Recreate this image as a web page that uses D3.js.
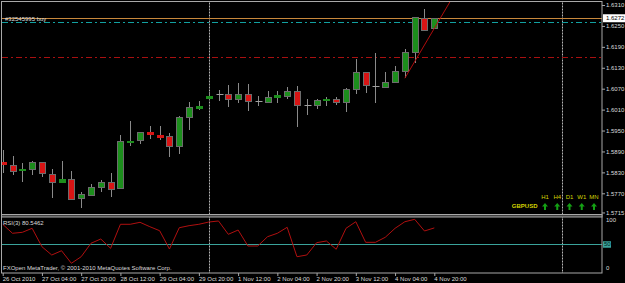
<!DOCTYPE html>
<html>
<head>
<meta charset="utf-8">
<script src="https://cdn.jsdelivr.net/npm/d3@7"></script>
<style>
  body { margin: 0; background: #000; }
  svg { display: block; }
  text { font-family: "Liberation Sans", Arial, sans-serif; font-size: 6px; fill: #dcdcdc; }
</style>
</head>
<body>
<div id="chart"></div>
<script>
// window size
var width = 625, height = 283;

// main window, separator and RSI sub-window (pixels)
var frame = {left: 1.5, right: 602, top: 1.5, mainBottom: 215, rsiTop: 217.5, bottom: 273};

// GBPUSD H4 bars, 26 Oct 12:00 .. 4 Nov 20:00
var opens  = [1.5861, 1.5852, 1.5837, 1.5840, 1.5859, 1.5826, 1.5802, 1.5810, 1.5756, 1.5765,
              1.5789, 1.5803, 1.5784, 1.5917, 1.5921, 1.5945, 1.5937, 1.5933, 1.5904, 1.5987,
              1.6013, 1.6045, 1.6054, 1.6054, 1.6042, 1.6054, 1.6036, 1.6031, 1.6045, 1.6049,
              1.6063, 1.6024, 1.6025, 1.6037, 1.6040, 1.6032, 1.6068, 1.6117, 1.6078, 1.6077,
              1.6090, 1.6119, 1.6174, 1.6273, 1.6242];
var highs  = [1.5894, 1.5877, 1.5858, 1.5862, 1.5860, 1.5839, 1.5863, 1.5833, 1.5775, 1.5797,
              1.5808, 1.5829, 1.5937, 1.5977, 1.5947, 1.5963, 1.5963, 1.5944, 1.5992, 1.6031,
              1.6035, 1.6060, 1.6067, 1.6081, 1.6085, 1.6083, 1.6049, 1.6063, 1.6063, 1.6076,
              1.6078, 1.6040, 1.6039, 1.6047, 1.6045, 1.6071, 1.6154, 1.6118, 1.6173, 1.6119,
              1.6135, 1.6184, 1.6276, 1.6299, 1.6273];
var lows   = [1.5829, 1.5823, 1.5803, 1.5823, 1.5816, 1.5756, 1.5799, 1.5751, 1.5727, 1.5763,
              1.5775, 1.5759, 1.5783, 1.5907, 1.5911, 1.5927, 1.5923, 1.5875, 1.5883, 1.5952,
              1.6009, 1.6038, 1.6035, 1.6018, 1.6030, 1.6006, 1.6020, 1.6028, 1.6030, 1.6040,
              1.5959, 1.5995, 1.6011, 1.6020, 1.6023, 1.6004, 1.6055, 1.6057, 1.6030, 1.6074,
              1.6087, 1.6100, 1.6144, 1.6236, 1.6241];
var closes = [1.5855, 1.5835, 1.5840, 1.5859, 1.5827, 1.5802, 1.5810, 1.5753, 1.5767, 1.5789,
              1.5802, 1.5784, 1.5920, 1.5920, 1.5945, 1.5939, 1.5932, 1.5904, 1.5988, 1.6017,
              1.6019, 1.6050, 1.6054, 1.6040, 1.6055, 1.6033, 1.6036, 1.6045, 1.6051, 1.6063,
              1.6022, 1.6024, 1.6038, 1.6040, 1.6031, 1.6068, 1.6117, 1.6079, 1.6078, 1.6090,
              1.6121, 1.6174, 1.6275, 1.6240, 1.6272];

// RSI(3) for each bar
var rsiValues = [87.3, 70.5, 72.3, 79.8, 45.4, 29.9, 37.9, 14.4, 26.7, 51.8,
                 59.8, 42.4, 87.3, 87.3, 91.0, 82.8, 75.3, 41.1, 80.9, 84.7,
                 87.3, 91.5, 93.5, 68.6, 76.6, 46.7, 46.7, 64.1, 70.5, 81.7,
                 26.7, 29.9, 52.9, 56.1, 40.6, 79.8, 92.1, 53.6, 53.6, 63.0,
                 79.8, 92.1, 96.6, 74.8, 80.5462];
var rsiLevel = 50;

// time axis
var timeTickBars = [0, 4, 8, 12, 16, 20, 24, 28, 32, 36, 40, 44];
var timeTickLabels = ["26 Oct 2010", "27 Oct 04:00", "27 Oct 20:00", "28 Oct 12:00",
                      "29 Oct 04:00", "29 Oct 20:00", "1 Nov 12:00", "2 Nov 04:00",
                      "2 Nov 20:00", "3 Nov 12:00", "4 Nov 04:00", "4 Nov 20:00"];

// price axis
var priceTicks = [1.6310, 1.6250, 1.6190, 1.6130, 1.6070, 1.6010, 1.5950, 1.5890, 1.5830, 1.5770, 1.5715];
var bidPrice = 1.6272;

// order / stop levels
var orderPrice = 1.6260, orderLabel = "#32545995 buy";
var stopPrice = 1.6160;

// trend line (bar index, price), drawn as a ray
var trendBars = [41, 44];
var trendPrices = [1.6100, 1.6243];

// period separators (bar index)
var separatorBars = [21, 57];

// trend panel
var tfLabels = ["H1", "H4", "D1", "W1", "MN"];
var tfDirections = ["up", "up", "up", "up", "up"];
var symbol = "GBPUSD";

var bullColor = "#1c8e1c", bearColor = "#d81414", wickColor = "#8a8a8a", frameColor = "#a8a8a8";

var data = opens.map(function(o, i) {
  return {i: i, open: o, high: highs[i], low: lows[i], close: closes[i]};
});

function px(v) { return Math.round(v) + 0.5; }

var svg = d3.select("#chart")
  .append("svg")
    .attr("width", width)
    .attr("height", height)
    .style("background", "#000");

// scales
var x = d3.scaleLinear().domain([0, 44]).range([2.7, 434.3]);
var y = d3.scaleLinear().domain([1.5770, 1.6310]).range([193.3, 5]);
var yRsi = d3.scaleLinear().domain([0, 100]).range([271, 217.5]);

// clip areas
var defs = svg.append("defs");
defs.append("clipPath").attr("id", "clipMain")
  .append("rect").attr("x", 2).attr("y", 2).attr("width", frame.right - 2).attr("height", frame.mainBottom - 2.5);
defs.append("clipPath").attr("id", "clipRsi")
  .append("rect").attr("x", 2).attr("y", frame.rsiTop + 0.5).attr("width", frame.right - 2).attr("height", frame.bottom - frame.rsiTop - 1);

// period separators (through both windows)
svg.selectAll(".sep")
  .data(separatorBars)
  .enter()
  .append("line")
    .attr("x1", function(d) { return px(x(d)); })
    .attr("x2", function(d) { return px(x(d)); })
    .attr("y1", frame.top + 1)
    .attr("y2", frame.bottom)
    .attr("stroke", "#b4b4b4")
    .attr("stroke-dasharray", "2,1");

var main = svg.append("g").attr("clip-path", "url(#clipMain)");

// horizontal levels
main.append("line")
  .attr("x1", 2).attr("x2", frame.right)
  .attr("y1", px(y(stopPrice))).attr("y2", px(y(stopPrice)))
  .attr("stroke", "#a81010")
  .attr("stroke-dasharray", "6,3,2,3");
main.append("line")
  .attr("x1", 2).attr("x2", frame.right)
  .attr("y1", px(y(orderPrice))).attr("y2", px(y(orderPrice)))
  .attr("stroke", "#12a0a0")
  .attr("stroke-dasharray", "6,3,2,3");
main.append("line")
  .attr("x1", 2).attr("x2", frame.right)
  .attr("y1", px(y(bidPrice))).attr("y2", px(y(bidPrice)))
  .attr("stroke", "#c8883c");
main.append("text")
  .attr("x", 5)
  .attr("y", y(orderPrice) - 1.5)
  .text(orderLabel);

// candles
var candles = main.selectAll(".candle")
  .data(data)
  .enter()
  .append("g")
  .attr("class", "candle");

candles.append("line")
  .attr("x1", function(d) { return px(x(d.i)); })
  .attr("x2", function(d) { return px(x(d.i)); })
  .attr("y1", function(d) { return Math.round(y(d.high)); })
  .attr("y2", function(d) { return Math.round(y(d.low)); })
  .attr("stroke", wickColor);

candles.filter(function(d) { return d.open !== d.close; })
  .append("rect")
    .attr("x", function(d) { return px(x(d.i)) - 3; })
    .attr("y", function(d) { return Math.round(y(Math.max(d.open, d.close))) + 0.5; })
    .attr("width", 6)
    .attr("height", function(d) { return Math.max(1, Math.round(Math.abs(y(d.open) - y(d.close)))); })
    .attr("fill", function(d) { return d.close > d.open ? bullColor : bearColor; })
    .attr("stroke", function(d) {
      var thin = Math.abs(y(d.open) - y(d.close)) < 3;
      return thin ? (d.close > d.open ? bullColor : bearColor) : "#6c6c6c";
    });

candles.filter(function(d) { return d.open === d.close; })
  .append("line")
    .attr("x1", function(d) { return px(x(d.i)) - 3; })
    .attr("x2", function(d) { return px(x(d.i)) + 4; })
    .attr("y1", function(d) { return px(y(d.open)); })
    .attr("y2", function(d) { return px(y(d.open)); })
    .attr("stroke", "#a0a0a0");

// trend line ray
var slope = (trendPrices[1] - trendPrices[0]) / (trendBars[1] - trendBars[0]);
var rayEnd = 60;
main.append("line")
  .attr("x1", x(trendBars[0]))
  .attr("y1", y(trendPrices[0]))
  .attr("x2", x(rayEnd))
  .attr("y2", y(trendPrices[0] + slope * (rayEnd - trendBars[0])))
  .attr("stroke", "#b00c0c");

// trend panel
var tfX = d3.scalePoint().domain(tfLabels).range([545, 594]);
svg.selectAll(".tf")
  .data(tfLabels)
  .enter()
  .append("text")
    .attr("x", function(d) { return tfX(d); })
    .attr("y", 198.8)
    .attr("text-anchor", "middle")
    .style("fill", "#d4d400")
    .text(function(d) { return d; });
svg.append("text")
  .attr("x", 537.5)
  .attr("y", 208)
  .attr("text-anchor", "end")
  .style("fill", "#d4d400")
  .style("font-weight", "bold")
  .text(symbol);
svg.selectAll(".arrow")
  .data(tfLabels)
  .enter()
  .append("path")
    .attr("transform", function(d, k) {
      return "translate(" + tfX(d) + ",206.5)" + (tfDirections[k] === "up" ? "" : " rotate(180)");
    })
    .attr("d", "M0,-3.5 L3,0 L1,0 L1,3.5 L-1,3.5 L-1,0 L-3,0 Z")
    .attr("fill", "#14a014");

// RSI window
var rsiG = svg.append("g").attr("clip-path", "url(#clipRsi)");
rsiG.append("line")
  .attr("x1", 2).attr("x2", frame.right)
  .attr("y1", px(yRsi(rsiLevel))).attr("y2", px(yRsi(rsiLevel)))
  .attr("stroke", "#3aa39b");
rsiG.append("path")
  .datum(rsiValues)
  .attr("fill", "none")
  .attr("stroke", "#b01010")
  .attr("d", d3.line()
    .x(function(d, i) { return x(i); })
    .y(function(d) { return yRsi(d); })
  );

svg.append("text")
  .attr("x", 3)
  .attr("y", 224.5)
  .text("RSI(3) " + rsiValues[rsiValues.length - 1].toFixed(4));
svg.append("text")
  .attr("x", 3)
  .attr("y", 269.8)
  .text("FXOpen MetaTrader, \u00a9 2001-2010 MetaQuotes Software Corp.");

// frame and window separator
svg.append("rect")
  .attr("x", frame.left).attr("y", frame.top)
  .attr("width", frame.right - frame.left).attr("height", frame.bottom - frame.top)
  .attr("fill", "none")
  .attr("stroke", frameColor);
svg.append("rect")
  .attr("x", frame.left).attr("y", frame.mainBottom - 0.5)
  .attr("width", frame.right - frame.left).attr("height", 2.5)
  .attr("fill", "#404040")
  .attr("stroke", frameColor);

// price axis
var yAxis = svg.append("g")
  .attr("transform", "translate(" + frame.right + ",0)")
  .attr("color", frameColor)
  .call(d3.axisRight(y).tickValues(priceTicks).tickSize(3).tickPadding(1).tickFormat(d3.format(".4f")));
yAxis.select(".domain").remove();

// current price box
svg.append("rect")
  .attr("x", 603).attr("y", y(bidPrice) - 4)
  .attr("width", 22).attr("height", 8)
  .attr("fill", "#ffffff");
svg.append("text")
  .attr("x", 606).attr("y", y(bidPrice) + 2.2)
  .style("fill", "#000")
  .text(d3.format(".4f")(bidPrice));

// RSI scale labels
svg.selectAll(".rsiLab")
  .data([100, 0])
  .enter()
  .append("text")
    .attr("x", 606)
    .attr("y", function(d) { return d === 100 ? yRsi(d) + 4.7 : yRsi(d) - 1.2; })
    .text(function(d) { return d; });
svg.append("rect")
  .attr("x", 603).attr("y", yRsi(rsiLevel) - 3)
  .attr("width", 8).attr("height", 6.5)
  .attr("fill", "#3aa39b");
svg.append("text")
  .attr("x", 604).attr("y", yRsi(rsiLevel) + 2.2)
  .style("fill", "#002020")
  .text(rsiLevel);

// time axis
var xAxis = svg.append("g")
  .attr("transform", "translate(0," + frame.bottom + ")")
  .attr("color", frameColor)
  .call(d3.axisBottom(x).tickValues(timeTickBars).tickSize(3)
    .tickFormat(function(d, k) { return timeTickLabels[k]; }));
xAxis.select(".domain").remove();
xAxis.selectAll("text")
  .attr("y", 7.5)
  .attr("dy", 0)
  .attr("x", -0.5)
  .style("text-anchor", "start");
</script>
</body>
</html>
